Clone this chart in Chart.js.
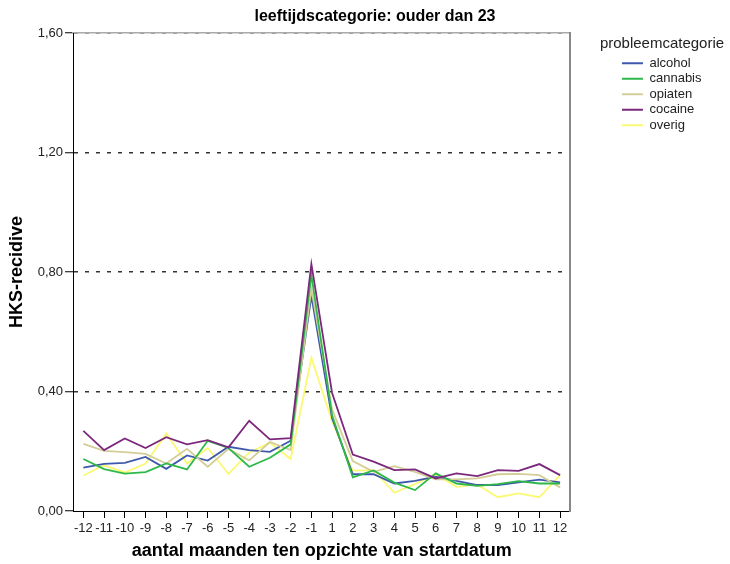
<!DOCTYPE html>
<html>
<head>
<meta charset="utf-8">
<script src="https://cdn.jsdelivr.net/npm/chart.js@4"></script>
<style>
    html, body { margin: 0; padding: 0; background: #fff; }
    #wrap { width: 730px; height: 564px; }
</style>
</head>
<body>
<div id="wrap"><canvas id="recidiveChart"></canvas></div>
<script>
// Data
const months = ['-12', '-11', '-10', '-9', '-8', '-7', '-6', '-5', '-4', '-3', '-2', '-1',
    '1', '2', '3', '4', '5', '6', '7', '8', '9', '10', '11', '12'];

const alcohol = [0.145, 0.158, 0.161, 0.181, 0.141, 0.186, 0.169, 0.215, 0.204, 0.198, 0.235, 0.720,
    0.310, 0.123, 0.123, 0.092, 0.101, 0.115, 0.101, 0.087, 0.087, 0.096, 0.105, 0.096];
const cannabis = [0.174, 0.140, 0.125, 0.130, 0.159, 0.139, 0.235, 0.211, 0.148, 0.178, 0.223, 0.790,
    0.320, 0.113, 0.136, 0.095, 0.070, 0.126, 0.092, 0.084, 0.090, 0.100, 0.092, 0.092];
const opiaten = [0.225, 0.201, 0.197, 0.191, 0.159, 0.208, 0.148, 0.208, 0.169, 0.231, 0.204, 0.744,
    0.340, 0.167, 0.131, 0.150, 0.131, 0.106, 0.106, 0.109, 0.123, 0.124, 0.120, 0.079];
const cocaine = [0.268, 0.204, 0.243, 0.211, 0.247, 0.223, 0.237, 0.213, 0.302, 0.240, 0.244, 0.827,
    0.395, 0.189, 0.165, 0.137, 0.139, 0.109, 0.126, 0.117, 0.137, 0.134, 0.157, 0.120];
const overig = [0.119, 0.153, 0.129, 0.159, 0.259, 0.159, 0.211, 0.124, 0.195, 0.229, 0.174, 0.513,
    0.300, 0.135, 0.137, 0.061, 0.090, 0.123, 0.081, 0.089, 0.046, 0.059, 0.046, 0.120];

const seriesNames = ['alcohol', 'cannabis', 'opiaten', 'cocaine', 'overig'];
const seriesColors = ['#3e58ac', '#2eb848', '#d3ce97', '#7c287d', '#fbf873'];

const chartTitle = 'leeftijdscategorie: ouder dan 23';
const legendTitle = 'probleemcategorie';
const fontFamily = "'Liberation Sans', Arial, sans-serif";

const makeDataset = function (label, values, color, order) {
    return {
        label: label,
        data: values,
        borderColor: color,
        backgroundColor: color,
        borderWidth: 1.8,
        pointRadius: 0,
        tension: 0,
        fill: false,
        order: order
    };
};

// Both titles stick out past their boxes in the original, so they are drawn by hand
const titlePlugin = {
    id: 'topTitle',
    afterDraw(chart) {
        const ctx = chart.ctx;
        ctx.save();
        ctx.textAlign = 'center';
        ctx.textBaseline = 'middle';
        ctx.font = 'bold 16px ' + fontFamily;
        ctx.fillStyle = '#000';
        ctx.fillText(chartTitle, 375, 17);
        ctx.font = '15px ' + fontFamily;
        ctx.fillStyle = '#222';
        ctx.fillText(legendTitle, 662, 44);
        ctx.restore();
    }
};

const chartElement = document.getElementById('recidiveChart');
const recidiveChart = new Chart(chartElement, {
    type: 'line',
    data: {
        labels: months,
        datasets: [
            makeDataset(seriesNames[0], alcohol, seriesColors[0], 4),
            makeDataset(seriesNames[1], cannabis, seriesColors[1], 2),
            makeDataset(seriesNames[2], opiaten, seriesColors[2], 3),
            makeDataset(seriesNames[3], cocaine, seriesColors[3], 1),
            makeDataset(seriesNames[4], overig, seriesColors[4], 5)
        ]
    },
    options: {
        responsive: true,
        maintainAspectRatio: false,
        animation: false,
        layout: {
            padding: { top: 33, right: 18.5, bottom: 0, left: 0 }
        },
        scales: {
            x: {
                type: 'category',
                offset: true,
                afterFit: function (scale) { scale.height = 53; },
                grid: {
                    display: true,
                    drawOnChartArea: false,
                    drawTicks: true,
                    tickLength: 7,
                    tickColor: '#000',
                    offset: false
                },
                border: { display: true, color: '#000', width: 1 },
                ticks: {
                    autoSkip: false,
                    maxRotation: 0,
                    padding: 3,
                    color: '#222',
                    font: { family: fontFamily, size: 13 }
                },
                title: {
                    display: true,
                    text: 'aantal maanden ten opzichte van startdatum',
                    color: '#000',
                    font: { family: fontFamily, size: 18, weight: 'bold' },
                    padding: { top: 0, bottom: 2 }
                }
            },
            // top frame line
            xt: {
                type: 'category',
                position: 'top',
                offset: true,
                afterFit: function (scale) { scale.height = 0; },
                grid: { display: false, drawTicks: false },
                border: { display: true, color: '#aaa', width: 1.5 },
                ticks: { display: false }
            },
            y: {
                min: 0,
                max: 1.6,
                afterFit: function (scale) { scale.width = 73; },
                grid: {
                    color: function (context) {
                        return context.tick && context.tick.value === 0 ? 'rgba(0,0,0,0)' : '#333';
                    },
                    lineWidth: 1.5,
                    drawTicks: true,
                    tickLength: 8,
                    tickColor: '#000',
                    tickWidth: 1
                },
                border: { display: true, color: '#000', width: 1, dash: [4, 7] },
                ticks: {
                    stepSize: 0.4,
                    padding: 2,
                    color: '#222',
                    font: { family: fontFamily, size: 13 },
                    callback: function (value) {
                        return value.toFixed(2).replace('.', ',');
                    }
                },
                title: {
                    display: true,
                    text: 'HKS-recidive',
                    color: '#000',
                    font: { family: fontFamily, size: 18, weight: 'bold' },
                    padding: { top: 6, bottom: 0 }
                }
            },
            // right-hand frame line, also keeps the legend clear of the plot
            yr: {
                position: 'right',
                min: 0,
                max: 1.6,
                afterFit: function (scale) { scale.width = 49; },
                grid: { display: false, drawTicks: false },
                border: { display: true, color: '#888', width: 2 },
                ticks: { display: false }
            }
        },
        plugins: {
            legend: {
                display: true,
                position: 'right',
                align: 'start',
                // empty title only reserves the space above the items
                title: {
                    display: true,
                    text: ' ',
                    color: 'rgba(0,0,0,0)',
                    font: { family: fontFamily, size: 15, lineHeight: 1.1 },
                    padding: { top: 3.5, bottom: 1.3 }
                },
                labels: {
                    boxWidth: 21,
                    boxHeight: 2,
                    padding: 2.5,
                    color: '#222',
                    font: { family: fontFamily, size: 13 },
                    generateLabels: function (chart) {
                        return chart.data.datasets.map(function (ds, i) {
                            return {
                                text: ds.label,
                                fillStyle: ds.borderColor,
                                strokeStyle: ds.borderColor,
                                fontColor: '#222',
                                lineWidth: 0,
                                hidden: false,
                                datasetIndex: i
                            };
                        });
                    }
                }
            },
            tooltip: { enabled: false }
        }
    },
    plugins: [titlePlugin]
});
</script>
</body>
</html>
